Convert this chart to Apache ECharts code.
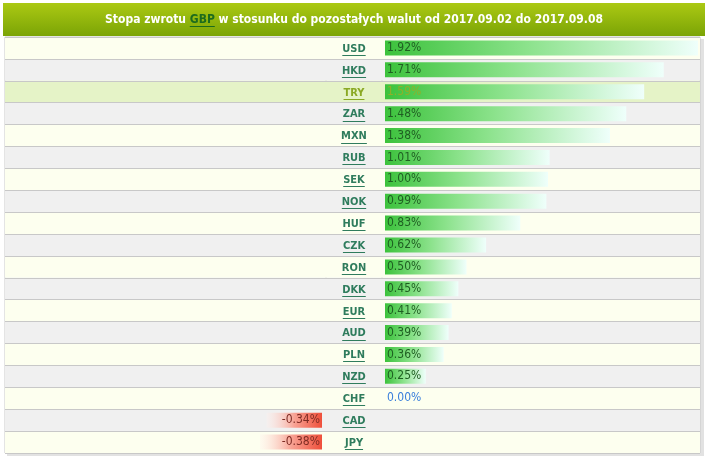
<!DOCTYPE html>
<html><head><meta charset="utf-8">
<script src="https://cdn.jsdelivr.net/npm/echarts@6/dist/echarts.min.js"></script>
<style>html,body{margin:0;padding:0;background:#fff}#c{width:709px;height:459px}</style>
</head><body><div id="c"></div>
<script>
// ---- data ----
const titleParts = ['Stopa zwrotu ', 'GBP', ' w stosunku do pozostałych walut od 2017.09.02 do 2017.09.08'];
const currencies = ['USD','HKD','TRY','ZAR','MXN','RUB','SEK','NOK','HUF','CZK','RON','DKK','EUR','AUD','PLN','NZD','CHF','CAD','JPY'];
const returns = [1.92,1.71,1.59,1.48,1.38,1.01,1.00,0.99,0.83,0.62,0.50,0.45,0.41,0.39,0.36,0.25,0.00,-0.34,-0.38];
const highlighted = 'TRY';

// ---- styling ----
const FF = "Tahoma, 'DejaVu Sans Condensed', 'DejaVu Sans', sans-serif";
const titleFont = "bold 12px " + FF;
const codeFont = "bold 11px " + FF;
const ctx = document.createElement('canvas').getContext('2d');
function tw(t, font){ ctx.font = font; return ctx.measureText(t).width; }

const rowColors = currencies.map((c, i) => c === highlighted ? '#e5f3c7' : (i % 2 === 0 ? '#fdffef' : '#f0f0f0'));
const lineCol = '#c8c8c8';
const posGrad = new echarts.graphic.LinearGradient(0, 0, 1, 0, [
  {offset: 0, color: '#3cc23c'}, {offset: 0.45, color: '#8be28b'}, {offset: 1, color: '#effffb'}]);
const negGrad = new echarts.graphic.LinearGradient(0, 0, 1, 0, [
  {offset: 0, color: 'rgba(255,240,236,0.3)'}, {offset: 0.5, color: '#f8a394'}, {offset: 1, color: '#ef4f3b'}]);

const TOP = 37, BOTTOM = 6;
const grids = [
  {left: 5, width: 321, top: TOP, bottom: BOTTOM},
  {left: 326, width: 56, top: TOP, bottom: BOTTOM},
  {left: 382, width: 318, top: TOP, bottom: BOTTOM}
].map(g => Object.assign(g, {show: true, borderColor: lineCol, borderWidth: 1, backgroundColor: 'transparent'}));

function catAxis(idx, extra) {
  return Object.assign({
    type: 'category', gridIndex: idx, data: currencies, inverse: true,
    axisLine: {show: false}, axisTick: {show: false}, axisLabel: {show: false},
    splitLine: {show: true, lineStyle: {color: lineCol, width: 1}},
    splitArea: {show: true, areaStyle: {color: rowColors}}
  }, extra || {});
}
const PX = 163; // pixels per 1 percentage point
const yAxes = [
  catAxis(0),
  catAxis(1, {axisLabel: {show: true, align: 'center', margin: -28,
    formatter: v => v === highlighted ? '{h|' + v + '}' : '{n|' + v + '}',
    rich: {
      n: {color: '#2f7c5d', fontWeight: 'bold', fontSize: 11, fontFamily: FF, padding: [2, 0, 0, 0]},
      h: {color: '#8aa924', fontWeight: 'bold', fontSize: 11, fontFamily: FF, padding: [2, 0, 0, 0]}
    }}}),
  catAxis(2)
];
const hiddenX = {axisLine: {show: false}, axisTick: {show: false}, axisLabel: {show: false}, splitLine: {show: false}};
const xAxes = [
  Object.assign({type: 'value', gridIndex: 0, min: -317 / PX, max: 4 / PX}, hiddenX),
  Object.assign({type: 'value', gridIndex: 1, min: 0, max: 1}, hiddenX),
  Object.assign({type: 'value', gridIndex: 2, min: -3 / PX, max: 315 / PX}, hiddenX)
];

const labelFont = {fontSize: 12, fontFamily: FF};
const posData = returns.map(v => v >= 0 ? {
  value: v,
  label: {color: v === 0 ? '#3a7fdb' : '#1f5f22'}
} : '-');
posData.forEach((d, i) => { if (d !== '-' && currencies[i] === highlighted) d.label.color = '#8fb02a'; });
const negData = returns.map(v => v < 0 ? v : '-');

const totalTitleW = tw(titleParts.join(''), titleFont);
const titleX0 = 354 - totalTitleW / 2;
const gbpX0 = titleX0 + tw(titleParts[0], titleFont);
const gbpW = tw(titleParts[1], titleFont);

const option = {
  animation: false,
  grid: grids,
  xAxis: xAxes,
  yAxis: yAxes,
  graphic: [
    {type: 'rect', shape: {x: 7, y: 39, width: 697, height: 417}, z: -10, silent: true,
     style: {fill: '#e2e2e2'}},
    {type: 'rect', shape: {x: 5, y: 37, width: 695, height: 416}, z: -9, silent: true,
     style: {fill: '#ffffff'}},
    {type: 'rect', shape: {x: 3, y: 3, width: 702, height: 33}, z: 0,
     style: {fill: new echarts.graphic.LinearGradient(0, 0, 0, 1, [{offset: 0, color: '#abc913'}, {offset: 1, color: '#7ba406'}])}},
    {type: 'text', x: 354, y: 20, z: 2, style: {
      text: '{w|' + titleParts[0] + '}{g|' + titleParts[1] + '}{w|' + titleParts[2] + '}',
      align: 'center', verticalAlign: 'middle',
      rich: {
        w: {fill: '#ffffff', font: titleFont},
        g: {fill: '#1d6b1d', font: titleFont}
      }}},
    {type: 'line', z: 2, shape: {x1: gbpX0, y1: 26.5, x2: gbpX0 + gbpW, y2: 26.5}, style: {stroke: '#1d6b1d', lineWidth: 1}}
  ],
  series: [
    {type: 'bar', xAxisIndex: 0, yAxisIndex: 0, data: negData, barWidth: 15,
     itemStyle: {color: negGrad},
     label: Object.assign({show: true, position: 'insideRight', distance: 2, color: '#7e2c24',
       formatter: p => p.value.toFixed(2) + '%'}, labelFont)},
    {type: 'bar', xAxisIndex: 2, yAxisIndex: 2, data: posData, barWidth: 15,
     itemStyle: {color: posGrad},
     label: Object.assign({show: true, position: 'insideLeft', distance: 2,
       formatter: p => p.value.toFixed(2) + '%'}, labelFont)},
    {type: 'custom', xAxisIndex: 1, yAxisIndex: 1, silent: true,
     data: currencies.map((c, i) => [0.5, i]),
     renderItem: (params, api) => {
       const i = api.value(1);
       const p = api.coord([api.value(0), i]);
       const code = currencies[i];
       const w = tw(code, codeFont);
       const col = code === highlighted ? '#8aa924' : '#2f7c5d';
       const y = Math.round(p[1] + 7) + 0.5;
       return {type: 'line', shape: {x1: p[0] - w / 2, y1: y, x2: p[0] + w / 2, y2: y}, style: {stroke: col, lineWidth: 1}};
     }}
  ]
};
echarts.init(document.getElementById('c'), null, {renderer: 'canvas'}).setOption(option);
</script>
</body></html>
